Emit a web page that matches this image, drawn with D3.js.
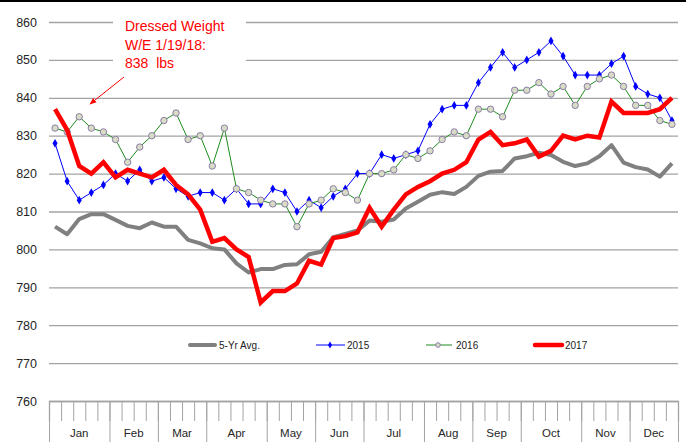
<!DOCTYPE html>
<html>
<head>
<meta charset="utf-8">
<script src="https://cdn.jsdelivr.net/npm/d3@7"></script>
<style>
  body { margin: 0; background: #fff; }
  text { font-family: "Liberation Sans", Arial, sans-serif; }
</style>
</head>
<body>
<div id="chart"></div>
<script>
// weekly dressed weight, 52 weeks
var months = ["Jan", "Feb", "Mar", "Apr", "May", "Jun", "Jul", "Aug", "Sep", "Oct", "Nov", "Dec"];
var monthWeeks = [5, 4, 4, 5, 4, 4, 5, 4, 4, 5, 4, 4];
var yTicks = [760, 770, 780, 790, 800, 810, 820, 830, 840, 850, 860];

var avg5 = [806, 804, 808, 809.3, 809.3, 807.8, 806.2, 805.6, 807.1, 806, 806, 802.5, 801.6, 800.3, 800,
    796.3, 793.9, 794.8, 794.8, 795.9, 796.1, 798.7, 799.4, 803.2, 804.1, 805, 807.6, 807.3, 807.9, 810.8,
    812.6, 814.4, 815.1, 814.6, 816.5, 819.4, 820.5, 820.7, 824, 824.6, 825.5, 824.9, 823.1, 822, 822.7,
    824.6, 827.5, 822.9, 821.7, 821.1, 819.2, 822.7];
var y2015 = [828, 818, 813, 815, 817, 820, 818, 821, 818, 819, 816, 814, 815, 815, 813, 816, 812, 812,
    816, 815, 810, 813, 811, 814, 816, 820, 820, 825, 824, 825, 826, 833, 837, 838, 838, 844, 848, 852,
    848, 850, 852, 855, 851, 846, 846, 846, 849, 851, 843, 841, 840, 834];
var y2016 = [832, 831, 835, 832, 831, 829, 823, 827, 830, 834, 836, 829, 830, 822, 832, 816, 815, 813,
    812, 812, 806, 812, 813, 816, 815, 813, 820, 820, 821, 825, 824, 826, 829, 831, 830, 837, 837, 835,
    842, 842, 844, 841, 843, 838, 843, 845, 846, 843, 838, 838, 834, 833];
var y2017 = [837, 831.5, 822, 820, 823, 819, 821, 820, 819, 821, 817, 814.5, 810.5, 802, 803, 800, 798,
    786, 789, 789, 791, 797, 796, 803, 803.5, 804.5, 811, 806, 810.5, 814.5, 816.5, 818, 820, 821, 823,
    829, 831, 827.5, 828, 829, 824.5, 826, 830, 829, 830, 829.5, 839, 836, 836, 836, 837, 840];

var orig_width = 686,
    orig_height = 442,
    margin = { top: 22, right: 8, bottom: 41, left: 49 };

var svg = d3.select("#chart").append("svg")
    .attr("width", orig_width)
    .attr("height", orig_height);

// black rule along the top edge
svg.append("rect")
    .attr("x", 0).attr("y", 0)
    .attr("width", orig_width).attr("height", 2)
    .attr("fill", "#000");

var nWeeks = avg5.length;
var x = d3.scaleLinear().domain([0, nWeeks]).range([margin.left, orig_width - margin.right]);
var y = d3.scaleLinear().domain([760, 860]).range([orig_height - margin.bottom, margin.top]);

//grid lines
svg.append("g")
    .attr("transform", "translate(" + x(0) + ",0)")
    .call(d3.axisLeft(y).tickValues(yTicks).tickSize(-(x(nWeeks) - x(0))).tickFormat(""))
    .call(g => g.select(".domain").remove())
    .selectAll("line")
    .attr("stroke", "#a3a3a3")
    .attr("stroke-width", 1.3);

// y labels
svg.append("g")
    .attr("transform", "translate(" + x(0) + ",0)")
    .call(d3.axisLeft(y).tickValues(yTicks).tickSize(0).tickPadding(12))
    .call(g => g.select(".domain").remove())
    .selectAll("text")
    .attr("font-size", 12.5)
    .attr("fill", "#262626")
    .style("font-family", "'Liberation Sans', Arial, sans-serif");

// x axis: weekly ticks plus longer month separators
var monthStarts = [0];
monthWeeks.forEach(function (w, i) { monthStarts.push(monthStarts[i] + w); });

svg.append("g")
    .attr("transform", "translate(0," + y(760) + ")")
    .call(d3.axisBottom(x).tickValues(d3.range(nWeeks + 1)).tickSize(20).tickFormat(""))
    .call(g => g.select(".domain").attr("stroke", "#a3a3a3").attr("stroke-width", 1.3))
    .selectAll("line").attr("stroke", "#a3a3a3");

svg.append("g")
    .attr("transform", "translate(0," + y(760) + ")")
    .call(d3.axisBottom(x).tickValues(monthStarts).tickSize(50).tickFormat(""))
    .call(g => g.select(".domain").remove())
    .selectAll("line").attr("stroke", "#a3a3a3");

// month names (kept just inside the bottom edge)
svg.append("g").selectAll("text")
    .data(months)
    .enter().append("text")
    .attr("x", (d, i) => (x(monthStarts[i]) + x(monthStarts[i + 1])) / 2)
    .attr("y", 437)
    .attr("text-anchor", "middle")
    .attr("font-size", 11.5)
    .attr("fill", "#262626")
    .text(d => d);

// annotation with white box behind it
svg.append("rect")
    .attr("x", 113).attr("y", 6)
    .attr("width", 133).attr("height", 72)
    .attr("fill", "#fff");

var note = svg.append("text")
    .attr("x", 125)
    .attr("font-size", 14)
    .attr("fill", "#ff0000");
["Dressed Weight", "W/E 1/19/18:", "838  lbs"].forEach(function (t, i) {
    note.append("tspan").attr("x", 125).attr("y", 31 + i * 18.5).text(t);
});
note.selectAll("tspan").attr("xml:space", "preserve").style("white-space", "pre");

svg.append("defs").append("marker")
    .attr("id", "arrow")
    .attr("viewBox", "0 0 10 10")
    .attr("refX", 9).attr("refY", 5)
    .attr("markerWidth", 7).attr("markerHeight", 7)
    .attr("orient", "auto")
    .append("path")
    .attr("d", "M0,1 L10,5 L0,9 Z")
    .attr("fill", "#ff0000");

svg.append("line")
    .attr("x1", 124).attr("y1", 77)
    .attr("x2", 90).attr("y2", 104)
    .attr("stroke", "#ff0000")
    .attr("stroke-width", 1)
    .attr("marker-end", "url(#arrow)");

// series
var cx = i => x(i + 0.5);
var line = d3.line().x((d, i) => cx(i)).y(d => y(d));

svg.append("path")
    .datum(avg5)
    .attr("d", line)
    .attr("fill", "none")
    .attr("stroke", "#808080")
    .attr("stroke-width", 4)
    .attr("stroke-linejoin", "round");

svg.append("path")
    .datum(y2015)
    .attr("d", line)
    .attr("fill", "none")
    .attr("stroke", "#0000ff")
    .attr("stroke-width", 1);

var diamond = d3.symbol().type(d3.symbolDiamond).size(22);
svg.append("g").selectAll("path")
    .data(y2015)
    .enter().append("path")
    .attr("d", diamond)
    .attr("transform", (d, i) => "translate(" + cx(i) + "," + y(d) + ")")
    .attr("fill", "#0000ff");

svg.append("path")
    .datum(y2016)
    .attr("d", line)
    .attr("fill", "none")
    .attr("stroke", "#1e8c1e")
    .attr("stroke-width", 1);

svg.append("g").selectAll("circle")
    .data(y2016)
    .enter().append("circle")
    .attr("cx", (d, i) => cx(i))
    .attr("cy", d => y(d))
    .attr("r", 3.2)
    .attr("fill", "#d9dcc4")
    .attr("stroke", "#8c7ca8")
    .attr("stroke-width", 1);

svg.append("path")
    .datum(y2017)
    .attr("d", line)
    .attr("fill", "none")
    .attr("stroke", "#ff0000")
    .attr("stroke-width", 4.5)
    .attr("stroke-linejoin", "miter");

// legend
var legend = svg.append("g").attr("font-size", 10).attr("fill", "#222");

legend.append("line").attr("x1", 190).attr("x2", 215).attr("y1", 345).attr("y2", 345)
    .attr("stroke", "#808080").attr("stroke-width", 4).attr("stroke-linecap", "round");
legend.append("text").attr("x", 219).attr("y", 348.5).text("5-Yr Avg.");

legend.append("line").attr("x1", 316).attr("x2", 345).attr("y1", 345).attr("y2", 345)
    .attr("stroke", "#0000ff").attr("stroke-width", 1);
legend.append("path").attr("d", d3.symbol().type(d3.symbolDiamond).size(14))
    .attr("transform", "translate(330,345)").attr("fill", "#0000ff");
legend.append("text").attr("x", 347).attr("y", 348.5).text("2015");

legend.append("line").attr("x1", 426).attr("x2", 452).attr("y1", 345).attr("y2", 345)
    .attr("stroke", "#1e8c1e").attr("stroke-width", 1);
legend.append("circle").attr("cx", 438).attr("cy", 345).attr("r", 2.3)
    .attr("fill", "#d9dcc4").attr("stroke", "#8c7ca8");
legend.append("text").attr("x", 456).attr("y", 348.5).text("2016");

legend.append("line").attr("x1", 535).attr("x2", 562).attr("y1", 345).attr("y2", 345)
    .attr("stroke", "#ff0000").attr("stroke-width", 4.5).attr("stroke-linecap", "round");
legend.append("text").attr("x", 565).attr("y", 348.5).text("2017");
</script>
</body>
</html>
